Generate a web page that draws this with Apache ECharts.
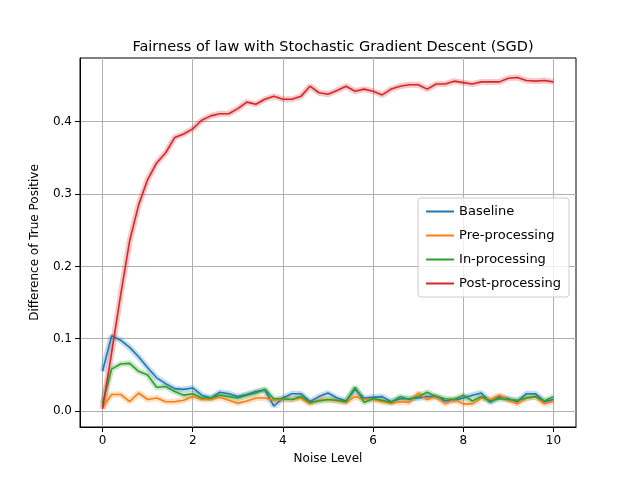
<!DOCTYPE html>
<html>
<head>
<meta charset="utf-8">
<script src="https://cdn.jsdelivr.net/npm/echarts@6/dist/echarts.min.js"></script>
<style>html,body{margin:0;padding:0;background:#fff}#c{width:640px;height:480px}</style>
</head>
<body>
<div id="c"></div>
<script>
var noise = [];
for (var i = 0; i <= 50; i++) noise.push(+(i * 0.2).toFixed(1));

var baseline = [0.055,0.104,0.098,0.088,0.075,0.06,0.046,0.038,0.031,0.03,0.032,0.022,0.018,0.026,0.024,0.02,0.023,0.027,0.029,0.007,0.018,0.024,0.024,0.013,0.02,0.025,0.018,0.014,0.03,0.018,0.019,0.02,0.013,0.017,0.017,0.018,0.02,0.02,0.014,0.015,0.018,0.022,0.025,0.012,0.02,0.017,0.013,0.024,0.024,0.013,0.016];
var preProcessing = [0.005,0.023,0.023,0.013,0.025,0.016,0.018,0.013,0.013,0.015,0.02,0.016,0.016,0.019,0.015,0.011,0.014,0.018,0.018,0.015,0.016,0.016,0.018,0.01,0.015,0.016,0.014,0.012,0.02,0.016,0.016,0.013,0.011,0.013,0.012,0.025,0.016,0.02,0.01,0.016,0.01,0.01,0.018,0.016,0.022,0.015,0.01,0.018,0.02,0.01,0.014];
var inProcessing = [0.01,0.058,0.065,0.066,0.055,0.05,0.033,0.034,0.027,0.022,0.024,0.018,0.018,0.022,0.02,0.018,0.022,0.025,0.03,0.017,0.017,0.016,0.02,0.012,0.014,0.016,0.015,0.013,0.033,0.012,0.017,0.015,0.012,0.02,0.016,0.02,0.026,0.02,0.017,0.016,0.022,0.014,0.02,0.014,0.017,0.016,0.015,0.018,0.02,0.014,0.02];
var postProcessing = [0.003,0.08,0.16,0.235,0.285,0.32,0.343,0.357,0.378,0.383,0.39,0.402,0.408,0.411,0.411,0.418,0.427,0.424,0.431,0.435,0.431,0.431,0.435,0.449,0.44,0.438,0.443,0.449,0.442,0.445,0.442,0.437,0.445,0.449,0.451,0.451,0.445,0.452,0.452,0.456,0.454,0.452,0.455,0.455,0.455,0.46,0.461,0.457,0.456,0.457,0.455];

var xTicks = [0, 2, 4, 6, 8, 10];
var yTicks = [0, 0.1, 0.2, 0.3, 0.4];

var names = ['Baseline', 'Pre-processing', 'In-processing', 'Post-processing'];
var colors = ['#1f77b4', '#ff7f0e', '#2ca02c', '#d62728'];
var values = [baseline, preProcessing, inProcessing, postProcessing];

function pairs(arr) {
    return arr.map(function (v, i) { return [noise[i], v]; });
}

var series = [];
values.forEach(function (arr, idx) {
    series.push({
        name: names[idx] + ' band',
        type: 'line',
        data: pairs(arr),
        symbol: 'none',
        silent: true,
        lineStyle: { color: colors[idx], width: 6, opacity: 0.25 },
        z: 1
    });
});
values.forEach(function (arr, idx) {
    series.push({
        name: names[idx],
        type: 'line',
        data: pairs(arr),
        symbol: 'none',
        lineStyle: { color: colors[idx], width: 1.6 },
        itemStyle: { color: colors[idx] },
        z: 2
    });
});

var font = 'DejaVu Sans';
var chart = echarts.init(document.getElementById('c'));
chart.setOption({
    animation: false,
    backgroundColor: '#fff',
    textStyle: { fontFamily: font },
    title: {
        text: 'Fairness of law with Stochastic Gradient Descent (SGD)',
        left: 328, top: 35, textAlign: 'center',
        textStyle: { fontFamily: font, fontSize: 14.5, fontWeight: 'normal', color: '#000' }
    },
    legend: {
        data: names,
        orient: 'vertical',
        right: 71, top: 198,
        itemWidth: 28, itemHeight: 2, itemGap: 11,
        padding: [7, 8, 7, 8],
        borderColor: '#ccc', borderWidth: 1, borderRadius: 3,
        backgroundColor: 'rgba(255,255,255,0.8)',
        icon: 'rect',
        textStyle: { fontFamily: font, fontSize: 13, color: '#000' }
    },
    grid: { left: 80, right: 64, top: 58, bottom: 53, containLabel: false,
        show: true, borderColor: '#000', borderWidth: 1 },
    xAxis: {
        type: 'value', min: -0.5, max: 10.5,
        name: 'Noise Level', nameLocation: 'middle', nameGap: 26,
        nameTextStyle: { fontFamily: font, fontSize: 12, color: '#000' },
        axisLine: { onZero: false, lineStyle: { color: '#000' } },
        axisTick: { customValues: xTicks, lineStyle: { color: '#000' } },
        axisLabel: { customValues: xTicks, color: '#000', fontSize: 12, fontFamily: font },
        splitLine: { show: true, lineStyle: { color: '#b0b0b0', width: 1 } }
    },
    yAxis: {
        type: 'value', min: -0.022, max: 0.488,
        name: 'Difference of True Positive', nameLocation: 'middle', nameGap: 39,
        nameTextStyle: { fontFamily: font, fontSize: 12, color: '#000' },
        axisLine: { show: true, onZero: false, lineStyle: { color: '#000' } },
        axisTick: { show: true, customValues: yTicks, lineStyle: { color: '#000' } },
        axisLabel: { customValues: yTicks, color: '#000', fontSize: 12, fontFamily: font,
            formatter: function (v) { return v.toFixed(1); } },
        splitLine: { show: true, lineStyle: { color: '#b0b0b0', width: 1 } }
    },
    series: series
});
</script>
</body>
</html>
